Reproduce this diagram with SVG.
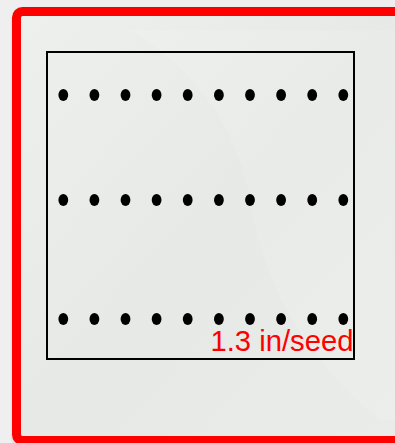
<svg xmlns="http://www.w3.org/2000/svg" width="395" height="443" viewBox="0 0 395 443">
<defs>
<linearGradient id="bg" x1="0" y1="0" x2="1" y2="1">
<stop offset="0" stop-color="#eef0ee"/>
<stop offset="0.5" stop-color="#e6e9e6"/>
<stop offset="1" stop-color="#eaece9"/>
</linearGradient>
<filter id="sh" x="-10%" y="-10%" width="120%" height="120%">
<feDropShadow dx="1" dy="2" stdDeviation="1.5" flood-color="#000" flood-opacity="0.3"/>
</filter>
<style>
.dot{fill:#000}
.lbl{font-family:"Liberation Sans",Arial,sans-serif;font-size:29px;fill:#ff0000}
</style>
</defs>
<rect width="395" height="443" fill="#eeefee"/>
<g id="frame">
<rect x="16.5" y="11.5" width="400" height="429" rx="6" fill="url(#bg)" stroke="#ff0000" stroke-width="9" filter="url(#sh)"/>
<path d="M130 30 Q230 90 250 200 Q270 330 380 420 L395 420 L395 30 Z" fill="#ffffff" opacity="0.12"/>
</g>
<g id="plot">
<rect x="47" y="52" width="307" height="307" fill="none" stroke="#000" stroke-width="2"/>
</g>
<g id="row1">
<ellipse class="dot" cx="63.3" cy="95" rx="4.9" ry="6"/><ellipse class="dot" cx="94.4" cy="95" rx="4.9" ry="6"/><ellipse class="dot" cx="125.5" cy="95" rx="4.9" ry="6"/><ellipse class="dot" cx="156.6" cy="95" rx="4.9" ry="6"/><ellipse class="dot" cx="187.7" cy="95" rx="4.9" ry="6"/><ellipse class="dot" cx="218.9" cy="95" rx="4.9" ry="6"/><ellipse class="dot" cx="250" cy="95" rx="4.9" ry="6"/><ellipse class="dot" cx="281.1" cy="95" rx="4.9" ry="6"/><ellipse class="dot" cx="312.2" cy="95" rx="4.9" ry="6"/><ellipse class="dot" cx="343.3" cy="95" rx="4.9" ry="6"/>
</g>
<g id="row2">
<ellipse class="dot" cx="63.3" cy="200" rx="4.9" ry="6"/><ellipse class="dot" cx="94.4" cy="200" rx="4.9" ry="6"/><ellipse class="dot" cx="125.5" cy="200" rx="4.9" ry="6"/><ellipse class="dot" cx="156.6" cy="200" rx="4.9" ry="6"/><ellipse class="dot" cx="187.7" cy="200" rx="4.9" ry="6"/><ellipse class="dot" cx="218.9" cy="200" rx="4.9" ry="6"/><ellipse class="dot" cx="250" cy="200" rx="4.9" ry="6"/><ellipse class="dot" cx="281.1" cy="200" rx="4.9" ry="6"/><ellipse class="dot" cx="312.2" cy="200" rx="4.9" ry="6"/><ellipse class="dot" cx="343.3" cy="200" rx="4.9" ry="6"/>
</g>
<g id="row3">
<ellipse class="dot" cx="63.3" cy="319" rx="4.9" ry="6"/><ellipse class="dot" cx="94.4" cy="319" rx="4.9" ry="6"/><ellipse class="dot" cx="125.5" cy="319" rx="4.9" ry="6"/><ellipse class="dot" cx="156.6" cy="319" rx="4.9" ry="6"/><ellipse class="dot" cx="187.7" cy="319" rx="4.9" ry="6"/><ellipse class="dot" cx="218.9" cy="319" rx="4.9" ry="6"/><ellipse class="dot" cx="250" cy="319" rx="4.9" ry="6"/><ellipse class="dot" cx="281.1" cy="319" rx="4.9" ry="6"/><ellipse class="dot" cx="312.2" cy="319" rx="4.9" ry="6"/><ellipse class="dot" cx="343.3" cy="319" rx="4.9" ry="6"/>
</g>
<g id="label">
<text class="lbl" x="210.5" y="351" textLength="143" lengthAdjust="spacingAndGlyphs">1.3 in/seed</text>
</g>
</svg>
